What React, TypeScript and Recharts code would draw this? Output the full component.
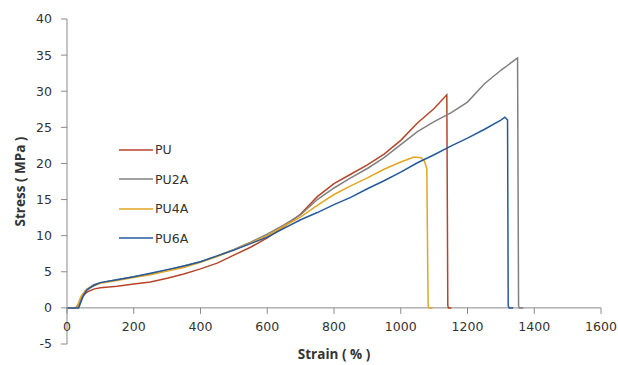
import React from 'react';
import { LineChart, Line, XAxis, YAxis, ReferenceLine, Legend } from 'recharts';

const xTicks = [0, 200, 400, 600, 800, 1000, 1200, 1400, 1600];
const yTicks = [-5, 0, 5, 10, 15, 20, 25, 30, 35, 40];

const puStrain = [0, 25, 35, 45, 60, 80, 100, 150, 200, 250, 300, 350, 400, 450, 500, 550, 600, 650, 700, 750, 800, 850, 900, 950, 1000, 1050, 1100, 1138, 1141, 1143, 1152];
const puStress = [0, 0, 0.5, 1.5, 2.2, 2.6, 2.8, 3.0, 3.3, 3.6, 4.1, 4.7, 5.4, 6.2, 7.3, 8.4, 9.7, 11.2, 13.0, 15.4, 17.2, 18.5, 19.8, 21.3, 23.2, 25.6, 27.6, 29.5, 0.3, 0, 0];

const pu2aStrain = [0, 28, 38, 48, 60, 80, 100, 150, 200, 250, 300, 350, 400, 450, 500, 550, 600, 650, 700, 750, 800, 850, 900, 950, 1000, 1050, 1100, 1150, 1200, 1250, 1300, 1350, 1353, 1355, 1367];
const pu2aStress = [0, 0, 0.6, 1.8, 2.6, 3.2, 3.5, 3.9, 4.3, 4.7, 5.2, 5.8, 6.4, 7.2, 8.1, 9.1, 10.2, 11.5, 12.9, 15.0, 16.6, 18.0, 19.3, 20.8, 22.6, 24.4, 25.8, 27.0, 28.5, 31.0, 32.9, 34.6, 0.3, 0, 0];

const pu4aStrain = [0, 28, 33, 42, 55, 70, 100, 150, 200, 250, 300, 350, 400, 450, 500, 550, 600, 650, 700, 750, 800, 850, 900, 950, 1000, 1040, 1060, 1070, 1078, 1082, 1085, 1095];
const pu4aStress = [0, 0, 0.5, 1.6, 2.4, 2.9, 3.4, 3.8, 4.2, 4.6, 5.1, 5.6, 6.3, 7.1, 8.0, 9.0, 10.0, 11.3, 12.6, 14.2, 15.7, 16.9, 18.0, 19.2, 20.2, 20.9, 20.8, 20.4, 19.3, 0.3, 0, 0];

const pu6aStrain = [0, 35, 40, 50, 60, 80, 100, 150, 200, 250, 300, 350, 400, 450, 500, 550, 600, 650, 700, 750, 800, 850, 900, 950, 1000, 1050, 1100, 1150, 1200, 1250, 1300, 1312, 1320, 1322, 1325, 1337];
const pu6aStress = [0, 0, 0.6, 1.8, 2.5, 3.1, 3.5, 3.9, 4.3, 4.8, 5.3, 5.8, 6.4, 7.2, 8.0, 8.9, 9.8, 11.0, 12.2, 13.2, 14.3, 15.3, 16.5, 17.6, 18.8, 20.1, 21.2, 22.4, 23.5, 24.7, 26.0, 26.4, 26.0, 0.3, 0, 0];

const seriesNames = ['PU', 'PU2A', 'PU4A', 'PU6A'];
const seriesColors = ['#B5452A', '#808080', '#E2A623', '#245A9C'];

const build = (xs: number[], ys: number[]) => xs.map((x, i) => ({ x, y: ys[i] }));
const seriesData = [
  build(puStrain, puStress),
  build(pu2aStrain, pu2aStress),
  build(pu4aStrain, pu4aStress),
  build(pu6aStrain, pu6aStress),
];

const W = 618;
const H = 365;
const PLOT_LEFT = 67;
const PLOT_TOP = 19;
const PLOT_RIGHT = 601;
const PLOT_BOTTOM = 344;
const Y_MIN = -5;
const Y_MAX = 40;
const ZERO_Y = PLOT_TOP + ((PLOT_BOTTOM - PLOT_TOP) * (Y_MAX - 0)) / (Y_MAX - Y_MIN);

const FONT = 'DejaVu Sans';
const TITLE_FONT = 'Open Sans';
const AXIS_COLOR = '#8A8A8A';
const TEXT_COLOR = '#333333';

const XTick = (props: any) => {
  const { x, payload } = props;
  return (
    <g>
      <line x1={x} x2={x} y1={ZERO_Y} y2={ZERO_Y + 6} stroke={AXIS_COLOR} strokeWidth={1} />
      <text x={x} y={ZERO_Y + 23.5} textAnchor="middle" fontFamily={FONT} fontSize={12.5} fill={TEXT_COLOR}>
        {payload.value}
      </text>
    </g>
  );
};

const LegendContent = (props: any) => {
  const items = props.payload || [];
  return (
    <div style={{ fontFamily: FONT, fontSize: 12.5, color: TEXT_COLOR }}>
      {items.map((p: any) => (
        <div key={p.value} style={{ display: 'flex', alignItems: 'center', height: 29.5 }}>
          <svg width={34} height={4} style={{ display: 'block' }}>
            <line x1={0} x2={34} y1={2} y2={2} stroke={p.color} strokeWidth={1.5} />
          </svg>
          <span style={{ marginLeft: 2 }}>{p.value}</span>
        </div>
      ))}
    </div>
  );
};

export default function App() {
  return (
    <div style={{ position: 'absolute', left: 0, top: 0, width: W, height: H, background: '#fff' }}>
      <LineChart
        width={W}
        height={H}
        margin={{ top: PLOT_TOP, right: W - PLOT_RIGHT, bottom: 0, left: 0 }}
      >
        <XAxis
          dataKey="x"
          type="number"
          domain={[0, 1600]}
          ticks={xTicks}
          axisLine={false}
          tickLine={false}
          tick={<XTick />}
          height={H - PLOT_BOTTOM}
          allowDataOverflow
          interval={0}
          label={{
            content: () => (
              <text
                x={(PLOT_LEFT + PLOT_RIGHT) / 2}
                y={359}
                textAnchor="middle"
                fontFamily={TITLE_FONT}
                fontWeight="bold"
                fontSize={13.5}
                fill={TEXT_COLOR}
              >
                Strain ( % )
              </text>
            ),
          }}
        />
        <YAxis
          type="number"
          domain={[Y_MIN, Y_MAX]}
          ticks={yTicks}
          width={PLOT_LEFT}
          interval={0}
          axisLine={{ stroke: AXIS_COLOR }}
          tickLine={{ stroke: AXIS_COLOR }}
          tickSize={6}
          tickMargin={9}
          tick={{ fontFamily: FONT, fontSize: 12.5, fill: TEXT_COLOR }}
          allowDataOverflow
          label={{
            content: () => {
              const cy = (PLOT_TOP + PLOT_BOTTOM) / 2;
              return (
                <text
                  x={20}
                  y={cy}
                  transform={`rotate(-90 20 ${cy})`}
                  textAnchor="middle"
                  dominantBaseline="central"
                  fontFamily={TITLE_FONT}
                  fontWeight="bold"
                  fontSize={13.5}
                  fill={TEXT_COLOR}
                >
                  Stress ( MPa )
                </text>
              );
            },
          }}
        />
        <ReferenceLine y={0} stroke={AXIS_COLOR} strokeWidth={1} ifOverflow="extendDomain" />
        {seriesData.map((d, i) => (
          <Line
            key={seriesNames[i]}
            data={d}
            dataKey="y"
            name={seriesNames[i]}
            type="linear"
            stroke={seriesColors[i]}
            strokeWidth={1.5}
            dot={false}
            activeDot={false}
            isAnimationActive={false}
          />
        ))}
        <Legend
          layout="vertical"
          align="center"
          verticalAlign="middle"
          content={<LegendContent />}
          wrapperStyle={{ position: 'absolute', left: 119, top: 135, width: 'auto' }}
        />
      </LineChart>
    </div>
  );
}
